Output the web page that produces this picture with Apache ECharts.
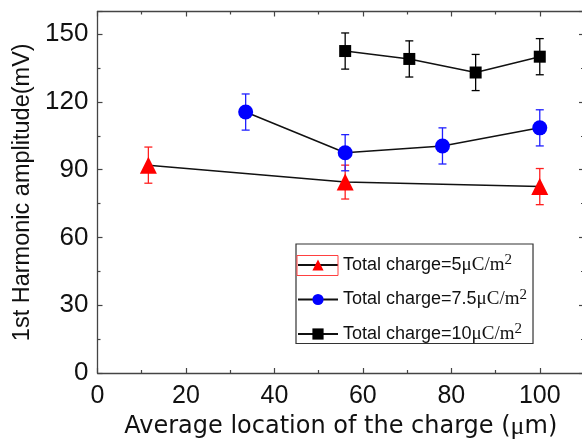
<!DOCTYPE html>
<html><head><meta charset="utf-8">
<script src="https://cdn.jsdelivr.net/npm/echarts@6/dist/echarts.min.js"></script>
<style>html,body{margin:0;padding:0;background:#fff}#c{width:582px;height:442px}</style>
</head><body><div id="c"></div>
<script>
// Data
var seriesNames = ['Total charge=5μC/m2', 'Total charge=7.5μC/m2', 'Total charge=10μC/m2'];
var xRed = [11.5, 56, 100];
var yRed = [92, 84.5, 82.5];
var eRed = [8, 7.5, 8];
var xBlue = [33.5, 56, 78, 100];
var yBlue = [115.5, 97.5, 100.5, 108.5];
var eBlue = [8, 8, 8, 8];
var xBlack = [56, 70.5, 85.5, 100];
var yBlack = [142.5, 139, 133, 140];
var eBlack = [8, 8, 8, 8];
var xTicks = [0, 20, 40, 60, 80, 100];
var yTicks = [0, 30, 60, 90, 120, 150];

function pts(xs, ys) { return xs.map(function (x, i) { return [x, ys[i]]; }); }
function errPts(xs, ys, es) { return xs.map(function (x, i) { return [x, ys[i] - es[i], ys[i] + es[i]]; }); }

function errSeries(xs, ys, es, color) {
  return {
    type: 'custom', z: 1, silent: true,
    data: errPts(xs, ys, es),
    renderItem: function (params, api) {
      var lo = api.coord([api.value(0), api.value(1)]);
      var hi = api.coord([api.value(0), api.value(2)]);
      var w = 4;
      var st = { stroke: color, lineWidth: 1.3 };
      return { type: 'group', children: [
        { type: 'line', shape: { x1: lo[0], y1: lo[1], x2: hi[0], y2: hi[1] }, style: st },
        { type: 'line', shape: { x1: lo[0] - w, y1: lo[1], x2: lo[0] + w, y2: lo[1] }, style: st },
        { type: 'line', shape: { x1: hi[0] - w, y1: hi[1], x2: hi[0] + w, y2: hi[1] }, style: st }
      ]};
    }
  };
}

var font = 'Liberation Sans, Arial, sans-serif';
var serif = 'Liberation Serif, Times New Roman, serif';
var chart = echarts.init(document.getElementById('c'), null, { renderer: 'canvas' });
var axisBase = {
  type: 'value', min: 0,
  axisLine: { show: true, onZero: false, lineStyle: { color: '#444', width: 1.3 } },
  axisTick: { show: true, inside: true, length: 5, lineStyle: { color: '#444', width: 1.2 } },
  minorTick: { show: true, splitNumber: 2, length: 3, lineStyle: { color: '#444', width: 1.2 } },
  splitLine: { show: false }
};
function legendFmt(name) {
  var m = name.match(/=(.*)μC\/m2/);
  return 'Total charge=' + m[1] + '{mu|μC/m}{sup|2}';
}
chart.setOption({
  animation: false,
  grid: { left: 97.5, top: 11.5, right: -2, bottom: 69, outerBoundsMode: 'none', containLabel: false },
  xAxis: [
    Object.assign({}, axisBase, { position: 'bottom', max: 110, interval: 20,
      name: 'Average location of the charge ({mu|μ}m)', nameLocation: 'middle', nameGap: 40,
      nameTextStyle: { fontFamily: 'DejaVu Sans, sans-serif', fontSize: 24, color: '#111',
        rich: { mu: { fontFamily: serif, fontSize: 26, color: '#111' } } },
      axisLabel: { fontFamily: font, fontSize: 25, color: '#111', margin: 11, showMaxLabel: false,
        formatter: function (v) { return xTicks.indexOf(v) >= 0 ? String(v) : ''; } } }),
    Object.assign({}, axisBase, { position: 'top', max: 110, interval: 20, axisLabel: { show: false } })
  ],
  yAxis: [
    Object.assign({}, axisBase, { position: 'left', max: 160, interval: 30,
      name: '1st Harmonic amplitude(mV)', nameLocation: 'middle', nameGap: 60, nameRotate: 90,
      nameTextStyle: { fontFamily: font, fontSize: 23.5, color: '#111' },
      axisLabel: { fontFamily: font, fontSize: 26, color: '#111', margin: 9, showMaxLabel: false,
        formatter: function (v) { return yTicks.indexOf(v) >= 0 ? String(v) : ''; } } }),
    Object.assign({}, axisBase, { position: 'right', max: 160, interval: 30, axisLabel: { show: false } })
  ],
  legend: {
    orient: 'vertical', left: 296, top: 244, width: 241,
    padding: [9, 6, 0, 1], itemGap: 13,
    borderColor: '#333', borderWidth: 1.2, backgroundColor: '#fff',
    itemWidth: 40, itemHeight: 14,
    data: seriesNames,
    formatter: legendFmt,
    textStyle: { fontFamily: font, fontSize: 18, color: '#111', padding: [0, 0, 0, 0],
      rich: {
        mu: { fontFamily: serif, fontSize: 19, color: '#111' },
        sup: { fontFamily: serif, fontSize: 15, color: '#111', verticalAlign: 'top', padding: [0, 0, 9, 0] }
      } }
  },
  graphic: [
    { type: 'rect', z: 100, silent: true, shape: { x: 297, y: 255.5, width: 41, height: 20 },
      style: { fill: 'none', stroke: '#ff4040', lineWidth: 1 } }
  ],
  series: [
    errSeries(xRed, yRed, eRed, '#ff2020'),
    errSeries(xBlue, yBlue, eBlue, '#2020ff'),
    errSeries(xBlack, yBlack, eBlack, '#000'),
    { name: seriesNames[0], type: 'line', z: 3, data: pts(xRed, yRed), symbol: 'triangle', symbolSize: 17,
      itemStyle: { color: '#ff0000' }, lineStyle: { color: '#111', width: 1.5 } },
    { name: seriesNames[1], type: 'line', z: 3, data: pts(xBlue, yBlue), symbol: 'circle', symbolSize: 15,
      itemStyle: { color: '#0000ff' }, lineStyle: { color: '#111', width: 1.5 } },
    { name: seriesNames[2], type: 'line', z: 3, data: pts(xBlack, yBlack), symbol: 'rect', symbolSize: 12,
      itemStyle: { color: '#000' }, lineStyle: { color: '#111', width: 1.5 } }
  ]
});
</script></body></html>
